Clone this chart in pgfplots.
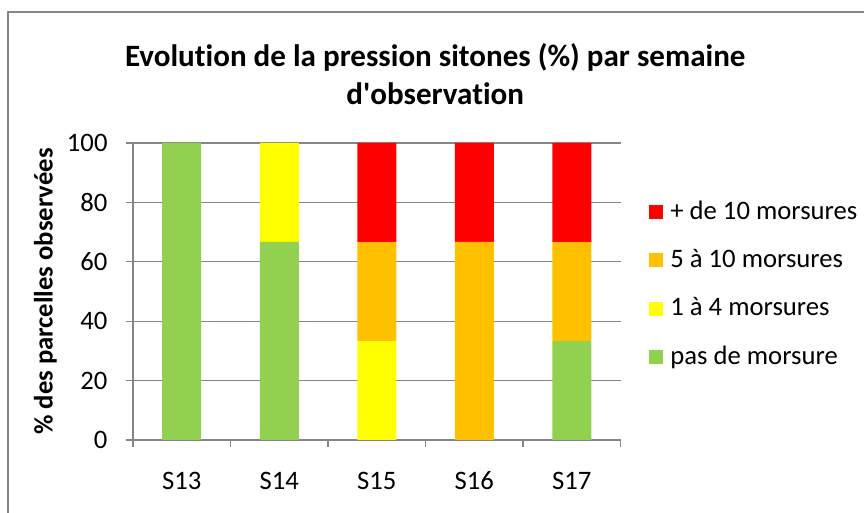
\documentclass[border=0pt]{standalone}
\usepackage{fontspec}
\setmainfont[Ligatures=NoCommon]{Carlito}
\usepackage{pgfplots}
\pgfplotsset{compat=1.18}
\definecolor{cred}{HTML}{FF0000}
\definecolor{corange}{HTML}{FFC000}
\definecolor{cyellow}{HTML}{FFFF00}
\definecolor{cgreen}{HTML}{92D050}
\definecolor{cgrid}{HTML}{868686}
\begin{document}
\fontsize{20}{24}\selectfont
\begin{tikzpicture}
\useasboundingbox (0pt,0pt) rectangle (648pt,384.75pt);
\begin{scope}
\clip (0pt,0pt) rectangle (648pt,384.75pt);
\draw[color=cgrid, line width=1.5pt] (6pt,-15pt) rectangle (668pt,375.75pt);
\end{scope}
\begin{axis}[
  at={(99.75pt,54.75pt)}, anchor=south west,
  scale only axis, width=365.625pt, height=222.75pt,
  xmin=-0.5, xmax=4.5, ymin=0, ymax=100,
  ybar stacked, bar width=29.25pt,
  xtick={-0.5,0.5,1.5,2.5,3.5,4.5}, xticklabels={},
  extra x ticks={0,1,2,3,4}, extra x tick labels={S13,S14,S15,S16,S17},
  extra x tick style={major tick length=0pt},
  ytick={0,20,40,60,80,100},
  axis x line*=bottom, axis y line*=left,
  axis line style={color=cgrid, line width=1pt},
  tick align=outside,
  major tick length=5.25pt,
  tick style={color=cgrid, line width=1pt},
  ymajorgrids, grid style={color=cgrid, line width=1pt},
  /pgf/number format/assume math mode=true,
  tick label style={font=\fontsize{20}{24}\selectfont},
  xticklabel style={yshift=-16pt, text height=14pt, text depth=3pt},
  yticklabel style={xshift=-7pt},
  title={Evolution de la pression sitones (\%) par semaine\\d\textquotesingle observation},
  title style={font=\fontsize{23.3}{28.5}\selectfont\bfseries, align=center, at={(axis description cs:0.62,1.205)}, anchor=center},
  ylabel={\% des parcelles observées},
  ylabel style={font=\fontsize{20}{24}\selectfont\bfseries, at={(axis description cs:-0.18,0.5)}, anchor=center},
  reverse legend,
  legend cell align=left,
  legend style={at={(axis description cs:1.058,0.815)}, anchor=north west, draw=none, fill=none,
    font=\fontsize{20}{24}\selectfont, row sep=15.5pt, inner sep=0pt},
  legend image code/.code={\fill (0pt,-5.25pt) rectangle (10.5pt,5.25pt); \path (14pt,0pt);},
]
\addplot[fill=cgreen, draw=none] coordinates {(0,100) (1,66.67) (2,0) (3,0) (4,33.33)};
\addplot[fill=cyellow, draw=none] coordinates {(0,0) (1,33.33) (2,33.33) (3,0) (4,0)};
\addplot[fill=corange, draw=none] coordinates {(0,0) (1,0) (2,33.33) (3,66.67) (4,33.33)};
\addplot[fill=cred, draw=none] coordinates {(0,0) (1,0) (2,33.34) (3,33.33) (4,33.34)};
\legend{pas de morsure, 1 à 4 morsures, 5 à 10 morsures, + de 10 morsures}
\end{axis}
\end{tikzpicture}
\end{document}
